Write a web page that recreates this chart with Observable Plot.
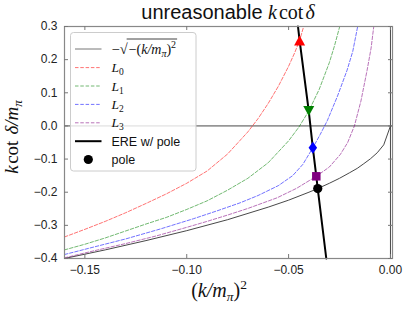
<!DOCTYPE html>
<html><head><meta charset="utf-8">
<script src="https://cdn.jsdelivr.net/npm/d3@7"></script>
<script src="https://cdn.jsdelivr.net/npm/@observablehq/plot@0.6"></script>
<style>body{margin:0;background:#fff} svg{display:block}</style>
</head><body><div id="chart"></div>
<script>
// ---- data ----
const xTicks = [-0.15, -0.10, -0.05, 0.00];
const yTicks = [-0.4, -0.3, -0.2, -0.1, 0.0, 0.1, 0.2, 0.3];

// -sqrt(-(k/m)^2)
const sqrtX = [-0.16,-0.14,-0.12,-0.10,-0.08,-0.06,-0.05,-0.04,-0.0357,-0.03,-0.025,-0.02,-0.0163,-0.0131,-0.0098,-0.0065,-0.0033,0];
const sqrtY = [-0.400,-0.374,-0.346,-0.316,-0.283,-0.245,-0.224,-0.200,-0.189,-0.173,-0.158,-0.141,-0.128,-0.114,-0.099,-0.081,-0.057,0];

// L0 (red)
const l0X = [-0.16,-0.15,-0.14,-0.13,-0.12,-0.11,-0.10,-0.09,-0.08,-0.07,-0.065,-0.06,-0.055,-0.05,-0.047,-0.0446,-0.0426];
const l0Y = [-0.335,-0.312,-0.288,-0.262,-0.234,-0.205,-0.173,-0.136,-0.085,-0.018,0.022,0.068,0.120,0.180,0.221,0.258,0.300];
// L1 (green)
const l1X = [-0.16,-0.15,-0.14,-0.13,-0.12,-0.11,-0.10,-0.09,-0.08,-0.07,-0.06,-0.05,-0.045,-0.0401,-0.035,-0.03,-0.0275,-0.0249];
const l1Y = [-0.374,-0.357,-0.338,-0.317,-0.296,-0.276,-0.252,-0.226,-0.194,-0.158,-0.111,-0.045,-0.004,0.045,0.110,0.191,0.241,0.300];
// L2 (blue)
const l2X = [-0.16,-0.146,-0.13,-0.113,-0.0967,-0.085,-0.0738,-0.065,-0.055,-0.048,-0.043,-0.0381,-0.0345,-0.031,-0.026,-0.0213,-0.0185,-0.0161];
const l2Y = [-0.388,-0.366,-0.341,-0.311,-0.280,-0.256,-0.232,-0.210,-0.180,-0.150,-0.116,-0.066,-0.026,0.016,0.090,0.168,0.225,0.300];
// L3 (purple)
const l3X = [-0.16,-0.145,-0.13,-0.115,-0.10,-0.09,-0.08,-0.07,-0.0557,-0.046,-0.0364,-0.030,-0.0246,-0.021,-0.0177,-0.0145,-0.0115,-0.0095,-0.0082];
const l3Y = [-0.398,-0.376,-0.355,-0.332,-0.306,-0.288,-0.269,-0.249,-0.217,-0.188,-0.152,-0.124,-0.086,-0.050,0,0.075,0.167,0.235,0.300];

// ERE with pole
const ereX = [-0.0454,-0.0446,-0.0401,-0.0381,-0.0364,-0.0357,-0.0315];
const ereY = [0.300,0.258,0.045,-0.066,-0.152,-0.189,-0.400];

// intersection markers: L0, L1, L2, L3, pole
const markX = [-0.0446,-0.0401,-0.0381,-0.0364,-0.0357];
const markY = [0.258,0.045,-0.066,-0.152,-0.189];

const curveNames = ["L0","L1","L2","L3"];
const curveColors = ["red","green","blue","purple"];

// ---- build ----
const rows = (xs, ys) => xs.map((x, i) => ({x, y: ys[i]}));
const curves = [rows(l0X,l0Y), rows(l1X,l1Y), rows(l2X,l2Y), rows(l3X,l3Y)];
const marks = rows(markX, markY);

function sym(pts) {
  return {draw(ctx, size) {
    const r = Math.sqrt(size / Math.PI);
    ctx.moveTo(pts[0][0]*r, pts[0][1]*r);
    for (let i = 1; i < pts.length; i++) ctx.lineTo(pts[i][0]*r, pts[i][1]*r);
    ctx.closePath();
  }};
}
const triUp = sym([[0,-1],[1.1,1],[-1.1,1]]);
const triDown = sym([[0,1],[1.1,-1],[-1.1,-1]]);
const thinDiamond = sym([[0,-1.2],[0.85,0],[0,1.2],[-0.85,0]]);
const square = sym([[-0.85,-0.85],[0.85,-0.85],[0.85,0.85],[-0.85,0.85]]);
const markSymbols = [triUp, triDown, thinDiamond, square, "circle"];
const markColors = ["red","green","blue","purple","black"];
const markR = [5,5,5,5,4.6];

const W = 407, H = 309, mL = 64, mR = 15, mT = 26, mB = 51;
const fw = W - mL - mR, fh = H - mT - mB;
const tickLen = 4;

const plot = Plot.plot({
  width: W, height: H,
  marginLeft: mL, marginRight: mR, marginTop: mT, marginBottom: mB,
  x: {domain: [-0.16, 0.001]},
  y: {domain: [-0.4, 0.3]},
  style: {background: "white", fontFamily: "Liberation Sans", color: "#222"},
  marks: [
    Plot.ruleY([0], {stroke: "#333", strokeWidth: 0.9}),
    Plot.ruleX([0], {stroke: "#333", strokeWidth: 0.9}),
    Plot.line(rows(sqrtX, sqrtY), {x: "x", y: "y", stroke: "#333", strokeWidth: 0.9}),
    ...curves.map((c, i) => Plot.line(c, {x: "x", y: "y", stroke: curveColors[i], strokeOpacity: 0.62, strokeWidth: 0.9, strokeDasharray: "3.5,1.8"})),
    Plot.line(rows(ereX, ereY), {x: "x", y: "y", stroke: "black", strokeWidth: 2}),
    ...marks.map((m, i) => Plot.dot([m], {x: "x", y: "y", r: markR[i], symbol: markSymbols[i], fill: markColors[i], stroke: "none"})),
    Plot.frame({stroke: "#888", strokeWidth: 1.2}),
    // inward ticks on all four sides
    Plot.tickX(xTicks, {x: d => d, insetTop: fh - tickLen, stroke: "#777"}),
    Plot.tickX(xTicks, {x: d => d, insetBottom: fh - tickLen, stroke: "#777"}),
    Plot.tickY(yTicks, {y: d => d, insetRight: fw - tickLen, stroke: "#777"}),
    Plot.tickY(yTicks, {y: d => d, insetLeft: fw - tickLen, stroke: "#777"}),
    Plot.axisX({ticks: xTicks, tickFormat: d3.format(".2f"), tickSize: 0, tickPadding: 7, fontSize: 12, label: null}),
    Plot.axisY({ticks: yTicks, tickFormat: d3.format(".1f"), tickSize: 0, tickPadding: 7, fontSize: 12, label: null})
  ]
});
document.getElementById("chart").appendChild(plot);

const svg = d3.select(plot);
const SERIF = "'Liberation Serif', 'DejaVu Serif', serif";
const SANS = "'Liberation Sans', Arial, sans-serif";

// Title
{
  const t = svg.append("text").attr("x", 228).attr("y", 18.5).attr("text-anchor", "middle")
    .attr("font-size", 20).attr("fill", "#111");
  t.append("tspan").attr("font-family", SANS).text("unreasonable ");
  t.append("tspan").attr("font-family", SERIF).attr("font-style", "italic").text("k");
  t.append("tspan").attr("font-family", SERIF).attr("dx", 2).text("cot");
  t.append("tspan").attr("font-family", SERIF).attr("font-style", "italic").attr("dx", 2).text("δ");
}
// X label
{
  const t = svg.append("text").attr("x", 219).attr("y", 297).attr("text-anchor", "middle")
    .attr("font-size", 20).attr("font-family", SERIF).attr("fill", "#111");
  t.append("tspan").text("(");
  t.append("tspan").attr("font-style", "italic").text("k/m");
  t.append("tspan").attr("font-style", "italic").attr("font-size", 13.5).attr("dy", 4).text("π");
  t.append("tspan").attr("dy", -4).text(")");
  t.append("tspan").attr("font-size", 13.5).attr("dy", -8).text("2");
}
// Y label
{
  const t = svg.append("text").attr("transform", "translate(18,137) rotate(-90)").attr("text-anchor", "middle")
    .attr("font-size", 19).attr("font-family", SERIF).attr("fill", "#111");
  t.append("tspan").attr("font-style", "italic").text("k");
  t.append("tspan").attr("dx", 1.5).text("cot");
  t.append("tspan").attr("font-style", "italic").attr("dx", 6).text("δ/m");
  t.append("tspan").attr("font-style", "italic").attr("font-size", 13).attr("dy", 4).text("π");
}

// Legend
{
  const g = svg.append("g").attr("text-anchor", "start");
  g.append("rect").attr("x", 70.5).attr("y", 32.5).attr("width", 125.5).attr("height", 138.5)
    .attr("rx", 3).attr("fill", "white").attr("fill-opacity", 0.8).attr("stroke", "#ccc");
  const rowsY = [49, 67.6, 86, 104.4, 122.8, 141.2, 159.5];
  const lx0 = 75, lx1 = 101.5, tx = 111.5;
  // row 0: sqrt
  g.append("line").attr("x1", lx0).attr("x2", lx1).attr("y1", rowsY[0]).attr("y2", rowsY[0]).attr("stroke", "#666").attr("stroke-width", 0.9);
  const a = g.append("text").attr("text-anchor", "start").attr("x", tx).attr("y", rowsY[0] + 5).attr("font-size", 14.5).attr("font-family", SERIF).attr("fill", "#111").text("−√");
  const aw = a.node().getComputedTextLength();
  const b = g.append("text").attr("text-anchor", "start").attr("x", tx + aw + 1).attr("y", rowsY[0] + 5).attr("font-size", 14).attr("font-family", SERIF).attr("fill", "#111");
  b.append("tspan").text("−(");
  b.append("tspan").attr("font-style", "italic").text("k/m");
  b.append("tspan").attr("font-style", "italic").attr("font-size", 10).attr("dy", 3).text("π");
  b.append("tspan").attr("dy", -3).text(")");
  b.append("tspan").attr("font-size", 10).attr("dy", -6).text("2");
  const bw = b.node().getComputedTextLength();
  g.append("line").attr("x1", tx + aw - 1).attr("x2", tx + aw + bw + 2).attr("y1", rowsY[0] - 10).attr("y2", rowsY[0] - 10)
    .attr("stroke", "#111").attr("stroke-width", 0.8);
  // rows 1-4: L_n
  curveNames.forEach((name, i) => {
    const y = rowsY[i + 1];
    g.append("line").attr("x1", lx0).attr("x2", lx1).attr("y1", y).attr("y2", y)
      .attr("stroke", curveColors[i]).attr("stroke-opacity", 0.62).attr("stroke-width", 0.9).attr("stroke-dasharray", "3.5,1.8");
    const t = g.append("text").attr("text-anchor", "start").attr("x", tx).attr("y", y + 4.5).attr("font-size", 13.5).attr("font-family", SERIF).attr("fill", "#111");
    t.append("tspan").attr("font-style", "italic").text(name[0]);
    t.append("tspan").attr("font-size", 9.5).attr("dy", 3).text(name.slice(1));
  });
  // row 5: ERE
  g.append("line").attr("x1", lx0).attr("x2", lx1).attr("y1", rowsY[5]).attr("y2", rowsY[5]).attr("stroke", "black").attr("stroke-width", 2);
  g.append("text").attr("text-anchor", "start").attr("x", tx).attr("y", rowsY[5] + 4.5).attr("font-size", 12.5).attr("font-family", SANS).attr("fill", "#111").text("ERE w/ pole");
  // row 6: pole
  g.append("circle").attr("cx", 88.3).attr("cy", rowsY[6]).attr("r", 4.6).attr("fill", "black");
  g.append("text").attr("text-anchor", "start").attr("x", tx).attr("y", rowsY[6] + 4.5).attr("font-size", 12.5).attr("font-family", SANS).attr("fill", "#111").text("pole");
}
</script></body></html>
